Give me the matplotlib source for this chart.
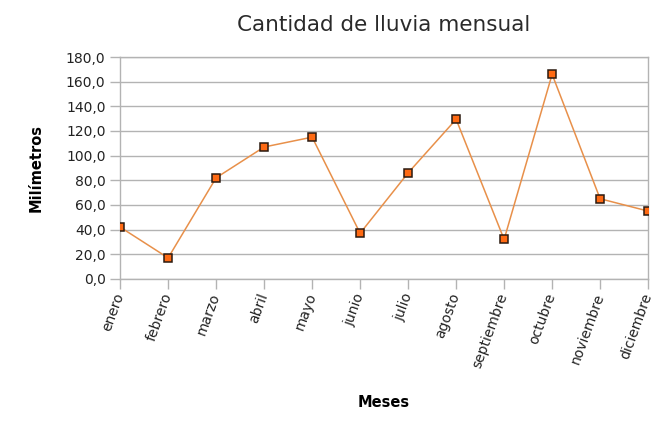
import matplotlib
matplotlib.use('Agg')
import matplotlib.pyplot as plt
from matplotlib.ticker import FuncFormatter, MultipleLocator

# Monthly rainfall (mm)
MESES = ['enero', 'febrero', 'marzo', 'abril', 'mayo', 'junio', 'julio',
         'agosto', 'septiembre', 'octubre', 'noviembre', 'diciembre']
LLUVIA = [42, 17, 82, 107, 115, 37, 86, 129.5, 32, 166, 65, 55]

plt.rcParams.update({
    'font.family': 'DejaVu Sans',
    'font.size':   10,
})

fig = plt.figure(figsize=(6.6, 4.29), dpi=100)
ax = fig.add_axes([0.182, 0.350, 0.800, 0.517])

x = list(range(len(MESES)))
ax.plot(x, LLUVIA, '-', color='#E8904A', lw=1.1, zorder=3)
ax.plot(x, LLUVIA, 's', color='#FF6A13', mec='#2B1A10', mew=1.1,
        ms=6, zorder=4, linestyle='none')

ax.set_xlim(0, len(MESES) - 1)
ax.set_ylim(0, 180)
ax.yaxis.set_major_locator(MultipleLocator(20))
ax.yaxis.set_major_formatter(FuncFormatter(lambda v, _: f'{v:.1f}'.replace('.', ',')))

ax.set_xticks(x)
ax.set_xticklabels(MESES, rotation=70, ha='right', va='center',
                   rotation_mode='anchor', fontsize=10, color='#222222')
ax.tick_params(axis='y', labelsize=10, colors='#222222')
ax.tick_params(axis='both', direction='out', length=7, width=1, color='#B3B3B3')

ax.grid(axis='y', color='#B3B3B3', lw=1)
ax.set_axisbelow(True)
for side in ['left', 'right', 'bottom', 'top']:
    ax.spines[side].set_color('#B3B3B3')
    ax.spines[side].set_linewidth(1)

ax.set_title('Cantidad de lluvia mensual', fontsize=15.5, color='#2A2A2A', pad=19)
ax.set_ylabel('Milímetros', fontweight='bold', fontsize=10.5, labelpad=16)
ax.set_xlabel('Meses', fontweight='bold', fontsize=10.5, labelpad=18)

fig.savefig('out.png', dpi=100)
